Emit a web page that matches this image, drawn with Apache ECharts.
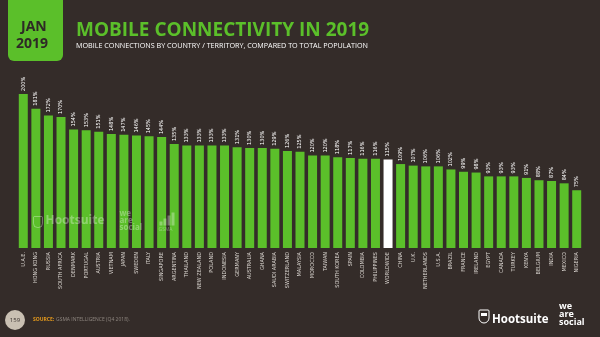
<!DOCTYPE html>
<html>
<head>
<meta charset="utf-8">
<script src="https://cdn.jsdelivr.net/npm/echarts@6/dist/echarts.min.js"></script>
<style>
  html, body { margin: 0; padding: 0; background: #342c29; }
  #chart { width: 600px; height: 337px; }
</style>
</head>
<body>
<div id="chart"></div>
<script>
// Mobile connections as a share of total population, January 2019
const countries = [
  'U.A.E.', 'HONG KONG', 'RUSSIA', 'SOUTH AFRICA', 'DENMARK', 'PORTUGAL', 'AUSTRIA', 'VIETNAM',
  'JAPAN', 'SWEDEN', 'ITALY', 'SINGAPORE', 'ARGENTINA', 'THAILAND', 'NEW ZEALAND', 'POLAND',
  'INDONESIA', 'GERMANY', 'AUSTRALIA', 'GHANA', 'SAUDI ARABIA', 'SWITZERLAND', 'MALAYSIA',
  'MOROCCO', 'TAIWAN', 'SOUTH KOREA', 'SPAIN', 'COLOMBIA', 'PHILIPPINES', 'WORLDWIDE', 'CHINA',
  'U.K.', 'NETHERLANDS', 'U.S.A.', 'BRAZIL', 'FRANCE', 'IRELAND', 'EGYPT', 'CANADA', 'TURKEY',
  'KENYA', 'BELGIUM', 'INDIA', 'MEXICO', 'NIGERIA'
];
const connectionsPct = [
  200, 181, 172, 170, 154, 153, 151, 148,
  147, 146, 145, 144, 135, 133, 133, 133,
  133, 131, 130, 130, 129, 126, 125,
  120, 120, 118, 117, 116, 116, 115, 109,
  107, 106, 106, 102, 99, 98, 93, 93, 93,
  91, 88, 87, 84, 75
];
const highlightCategory = 'WORLDWIDE';

const GREEN = '#5bbf2a';
const BG = '#342c29';
const MARK = 'rgba(255,255,255,0.32)';

const chart = echarts.init(document.getElementById('chart'), null, { renderer: 'canvas' });

const barData = connectionsPct.map((v, i) => ({
  value: v,
  itemStyle: { color: countries[i] === highlightCategory ? '#ffffff' : GREEN }
}));

chart.setOption({
  backgroundColor: BG,
  animation: false,
  grid: { left: 17, right: 17, top: 94, bottom: 89, containLabel: false },
  xAxis: {
    type: 'category',
    data: countries,
    axisLine: { show: false },
    axisTick: { show: false },
    axisLabel: {
      interval: 0,
      rotate: 90,
      margin: 4,
      color: '#d9d4cf',
      fontSize: 5.5,
      fontFamily: 'DejaVu Sans Condensed, DejaVu Sans, sans-serif'
    }
  },
  yAxis: {
    type: 'value',
    min: 0,
    max: 200,
    show: false,
    splitLine: { show: false }
  },
  series: [{
    type: 'bar',
    data: barData,
    barWidth: 9,
    label: {
      show: true,
      position: 'top',
      rotate: 90,
      align: 'left',
      verticalAlign: 'middle',
      distance: 3,
      color: '#ffffff',
      fontSize: 5.5,
      fontFamily: 'DejaVu Sans Condensed, DejaVu Sans, sans-serif',
      formatter: p => p.value + '%'
    }
  }],
  graphic: [
    // date tab
    {
      type: 'rect',
      shape: { x: 8, y: -6, width: 55, height: 67, r: [0, 0, 6, 6] },
      style: { fill: GREEN }
    },
    {
      type: 'text', left: 21, top: 20,
      style: { text: 'JAN', fill: '#2e2926', font: 'bold 14px "Open Sans", sans-serif', textAlign: 'left' }
    },
    {
      type: 'text', left: 16, top: 37,
      style: { text: '2019', fill: '#2e2926', font: 'bold 14px "Open Sans", sans-serif' }
    },
    // heading
    {
      type: 'text', left: 76, top: 21,
      style: { text: 'MOBILE CONNECTIVITY IN 2019', fill: GREEN, font: 'bold 19px "Open Sans", sans-serif' }
    },
    {
      type: 'text', left: 76, top: 42,
      style: { text: 'MOBILE CONNECTIONS BY COUNTRY / TERRITORY, COMPARED TO TOTAL POPULATION', fill: '#ffffff', font: '7.2px "Open Sans", sans-serif' }
    },
    // faint brand marks over the bars
    {
      type: 'group', left: 31, top: 210, silent: true, z: 100,
      children: [
        { type: 'rect', z: 100, shape: { x: 0, y: 3, width: 9, height: 11, r: [1, 1, 4, 4] }, style: { fill: 'none', stroke: MARK, lineWidth: 1 } },
        { type: 'text', z: 100, x: 12, y: 1, style: { text: 'Hootsuite', fill: MARK, font: 'bold 12px "Open Sans", sans-serif' } },
        { type: 'text', z: 100, x: 86, y: -3, style: { text: 'we\nare\nsocial', fill: MARK, font: 'bold 8px "Open Sans", sans-serif', lineHeight: 7 } },
        { type: 'rect', z: 100, shape: { x: 126, y: 8, width: 3, height: 4 }, style: { fill: MARK } },
        { type: 'rect', z: 100, shape: { x: 130, y: 5, width: 3, height: 7 }, style: { fill: MARK } },
        { type: 'rect', z: 100, shape: { x: 134, y: 2, width: 3, height: 10 }, style: { fill: MARK } },
        { type: 'rect', z: 100, shape: { x: 138, y: -1, width: 3, height: 13 }, style: { fill: MARK } },
        { type: 'text', z: 100, x: 125, y: 14, style: { text: 'GSMA', fill: MARK, font: '5px "Open Sans", sans-serif' } }
      ]
    },
    // footer: page number and source
    {
      type: 'circle', shape: { cx: 15, cy: 320, r: 10 },
      style: { fill: '#c9c0b2' }
    },
    {
      type: 'text', x: 15, y: 320,
      style: { text: '159', fill: '#3a322e', font: '6px "Open Sans", sans-serif', textAlign: 'center', textVerticalAlign: 'middle' }
    },
    {
      type: 'text', x: 33, y: 320,
      style: { text: 'SOURCE:', fill: '#e59a1c', font: 'bold 5px "Open Sans", sans-serif', textVerticalAlign: 'middle' }
    },
    {
      type: 'text', x: 56, y: 320,
      style: { text: 'GSMA INTELLIGENCE (Q4 2018).', fill: '#8f8780', font: '5px "Open Sans", sans-serif', textVerticalAlign: 'middle' }
    },
    // footer: brand logos
    {
      type: 'rect', shape: { x: 479, y: 310, width: 10, height: 13, r: [1, 1, 5, 5] },
      style: { fill: 'none', stroke: '#ffffff', lineWidth: 1 }
    },
    {
      type: 'rect', shape: { x: 481, y: 313, width: 6, height: 3 },
      style: { fill: '#ffffff' }
    },
    {
      type: 'text', x: 492, y: 320,
      style: { text: 'Hootsuite', fill: '#ffffff', font: 'bold 11.5px "Open Sans", sans-serif', textVerticalAlign: 'middle' }
    },
    {
      type: 'text', x: 559, y: 302,
      style: { text: 'we\nare\nsocial', fill: '#ffffff', font: 'bold 9px "Open Sans", sans-serif', lineHeight: 8 }
    }
  ]
});
</script>
</body>
</html>
